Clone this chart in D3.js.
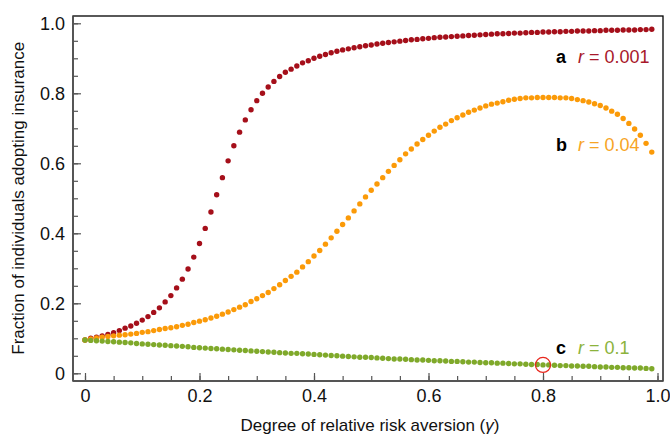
<!DOCTYPE html>
<html>
<head>
<meta charset="utf-8">
<script src="https://cdn.jsdelivr.net/npm/d3@7"></script>
<style>
  body { margin: 0; background: #fff; }
  svg { font-family: "Liberation Sans", Arial, Helvetica, sans-serif; }
</style>
</head>
<body>
<div id="chart"></div>
<script>
// risk aversion values, one dot per 0.01
const gammas = d3.range(100).map(i => i / 100);

// r = 0.001
const seriesA = [
  0.095, 0.100, 0.103, 0.107, 0.111, 0.116, 0.122, 0.129, 0.135, 0.143,
  0.152, 0.162, 0.174, 0.187, 0.204, 0.222, 0.244, 0.269, 0.298, 0.332,
  0.371, 0.414, 0.461, 0.510, 0.559, 0.607, 0.650, 0.689, 0.724, 0.753,
  0.779, 0.800, 0.818, 0.834, 0.848, 0.860, 0.869, 0.878, 0.887, 0.893,
  0.900, 0.906, 0.911, 0.916, 0.920, 0.924, 0.927, 0.930, 0.933, 0.936,
  0.938, 0.941, 0.943, 0.945, 0.947, 0.949, 0.951, 0.953, 0.954, 0.956,
  0.957, 0.959, 0.960, 0.961, 0.962, 0.963, 0.964, 0.965, 0.966, 0.967,
  0.968, 0.969, 0.970, 0.970, 0.971, 0.972, 0.972, 0.973, 0.974, 0.974,
  0.975, 0.975, 0.976, 0.976, 0.977, 0.977, 0.978, 0.978, 0.978, 0.979,
  0.979, 0.980, 0.980, 0.980, 0.981, 0.981, 0.981, 0.982, 0.982, 0.983
];

// r = 0.04
const seriesB = [
  0.095, 0.098, 0.101, 0.103, 0.105, 0.107, 0.109, 0.110, 0.112, 0.114,
  0.117, 0.119, 0.122, 0.125, 0.128, 0.130, 0.133, 0.137, 0.140, 0.145,
  0.149, 0.153, 0.158, 0.163, 0.169, 0.175, 0.182, 0.189, 0.196, 0.205,
  0.213, 0.222, 0.231, 0.242, 0.253, 0.265, 0.277, 0.289, 0.304, 0.319,
  0.335, 0.351, 0.369, 0.387, 0.406, 0.425, 0.444, 0.464, 0.484, 0.504,
  0.523, 0.541, 0.559, 0.577, 0.594, 0.610, 0.627, 0.641, 0.655, 0.668,
  0.680, 0.692, 0.703, 0.712, 0.722, 0.730, 0.738, 0.746, 0.752, 0.758,
  0.764, 0.769, 0.772, 0.776, 0.780, 0.783, 0.785, 0.787, 0.787, 0.788,
  0.788, 0.788, 0.788, 0.787, 0.787, 0.785, 0.782, 0.779, 0.775, 0.770,
  0.765, 0.758, 0.749, 0.740, 0.728, 0.714, 0.698, 0.680, 0.657, 0.632
];

// r = 0.1
const seriesC = [
  0.095, 0.094, 0.093, 0.092, 0.091, 0.090, 0.089, 0.088, 0.087, 0.085,
  0.084, 0.083, 0.082, 0.081, 0.080, 0.079, 0.078, 0.077, 0.076, 0.074,
  0.073, 0.072, 0.071, 0.070, 0.069, 0.068, 0.067, 0.066, 0.065, 0.064,
  0.063, 0.062, 0.061, 0.060, 0.059, 0.058, 0.057, 0.057, 0.056, 0.055,
  0.054, 0.053, 0.052, 0.051, 0.050, 0.049, 0.048, 0.047, 0.046, 0.046,
  0.045, 0.044, 0.043, 0.042, 0.041, 0.041, 0.040, 0.039, 0.038, 0.038,
  0.037, 0.036, 0.036, 0.035, 0.034, 0.034, 0.033, 0.032, 0.032, 0.031,
  0.030, 0.030, 0.029, 0.029, 0.028, 0.027, 0.027, 0.026, 0.025, 0.025,
  0.024, 0.024, 0.023, 0.022, 0.022, 0.021, 0.021, 0.020, 0.020, 0.019,
  0.018, 0.018, 0.017, 0.017, 0.016, 0.016, 0.015, 0.015, 0.014, 0.013
];

const seriesLetters = ["a", "b", "c"];
const seriesNames = ["0.001", "0.04", "0.1"];
const seriesLabelY = [0.888, 0.636, 0.054];

const xTicks = [0, 0.2, 0.4, 0.6, 0.8, 1.0];
const xTickLabels = ["0", "0.2", "0.4", "0.6", "0.8", "1.0"];
const yTicks = [0, 0.2, 0.4, 0.6, 0.8, 1.0];
const yTickLabels = ["0", "0.2", "0.4", "0.6", "0.8", "1.0"];
const minorTicks = d3.range(0, 21).map(i => i * 0.05);

// highlighted point on curve c
const markGamma = 0.8;

const W = 670, H = 436;
const dotColors = ["#a50f1a", "#fb9a08", "#7fa92a"];
const textColors = ["#a8182a", "#f7a425", "#8cb33c"];

const svg = d3.select("#chart").append("svg")
  .attr("width", W)
  .attr("height", H);

// plot frame edges
const frame = { left: 73, right: 663, top: 16, bottom: 381 };

const x = d3.scaleLinear().domain([0, 1]).range([85, 657.5]);
const y = d3.scaleLinear().domain([0, 1]).range([373.3, 23.3]);

// frame: top/right black
svg.append("rect")
  .attr("x", frame.left)
  .attr("y", frame.top)
  .attr("width", frame.right - frame.left)
  .attr("height", frame.bottom - frame.top)
  .attr("fill", "none")
  .attr("stroke", "#000")
  .attr("stroke-width", 1.3);

//x axis, ticks pointing into the plot
const xMinor = svg.append("g")
  .attr("transform", `translate(0,${frame.bottom})`)
  .call(d3.axisBottom(x).tickValues(minorTicks).tickSize(-5).tickFormat(""));
const xAxis = svg.append("g")
  .attr("transform", `translate(0,${frame.bottom})`)
  .call(d3.axisBottom(x).tickValues(xTicks).tickSize(-8).tickPadding(8)
    .tickFormat((d, i) => xTickLabels[i]));

//y axis
const yMinor = svg.append("g")
  .attr("transform", `translate(${frame.left},0)`)
  .call(d3.axisLeft(y).tickValues(minorTicks).tickSize(-5).tickFormat(""));
const yAxis = svg.append("g")
  .attr("transform", `translate(${frame.left},0)`)
  .call(d3.axisLeft(y).tickValues(yTicks).tickSize(-8).tickPadding(8)
    .tickFormat((d, i) => yTickLabels[i]));

[xMinor, xAxis, yMinor, yAxis].forEach(g => {
  g.select(".domain").remove();
  g.selectAll(".tick line").attr("stroke", "#555").attr("stroke-width", 1.2);
});
[xAxis, yAxis].forEach(g => {
  g.selectAll(".tick text")
    .style("font-size", "18px")
    .attr("fill", "#111")
    .style("font-family", "'Liberation Sans', Arial, sans-serif");
});

// left and bottom axis lines in grey
svg.append("line")
  .attr("x1", frame.left).attr("x2", frame.left)
  .attr("y1", frame.top).attr("y2", frame.bottom)
  .attr("stroke", "#555").attr("stroke-width", 1.4);
svg.append("line")
  .attr("x1", frame.left).attr("x2", frame.right)
  .attr("y1", frame.bottom).attr("y2", frame.bottom)
  .attr("stroke", "#555").attr("stroke-width", 1.4);

// axis titles
svg.append("text")
  .attr("x", 370)
  .attr("y", 431)
  .attr("text-anchor", "middle")
  .style("font-size", "17px")
  .attr("fill", "#111")
  .text("Degree of relative risk aversion (")
  .append("tspan").style("font-style", "italic").text("γ")
  .select(function () { return this.parentNode; })
  .append("tspan").text(")");

svg.append("text")
  .attr("transform", `translate(24,${(y(0) + y(1)) / 2}) rotate(-90)`)
  .attr("text-anchor", "middle")
  .style("font-size", "17px")
  .attr("fill", "#111")
  .text("Fraction of individuals adopting insurance");

// dots, red first so green ends on top
const allSeries = [seriesA, seriesB, seriesC];
allSeries.forEach((vals, k) => {
  svg.append("g")
    .selectAll("circle")
    .data(vals)
    .enter()
    .append("circle")
    .attr("cx", (d, i) => x(gammas[i]))
    .attr("cy", d => y(d))
    .attr("r", 2.7)
    .attr("fill", dotColors[k]);
});

// red ring on curve c
svg.append("circle")
  .attr("cx", x(markGamma))
  .attr("cy", y(seriesC[gammas.indexOf(markGamma)]))
  .attr("r", 7.5)
  .attr("fill", "none")
  .attr("stroke", "#e8281e")
  .attr("stroke-width", 1.3);

// series labels
seriesLetters.forEach((letter, k) => {
  const t = svg.append("text")
    .attr("y", y(seriesLabelY[k]))
    .style("font-size", "18px");
  t.append("tspan")
    .attr("x", 556)
    .style("font-weight", "bold")
    .attr("fill", "#000")
    .text(letter);
  t.append("tspan")
    .attr("x", 578)
    .style("font-style", "italic")
    .attr("fill", textColors[k])
    .text("r");
  t.append("tspan")
    .attr("fill", textColors[k])
    .text(" = " + seriesNames[k]);
});
</script>
</body>
</html>
